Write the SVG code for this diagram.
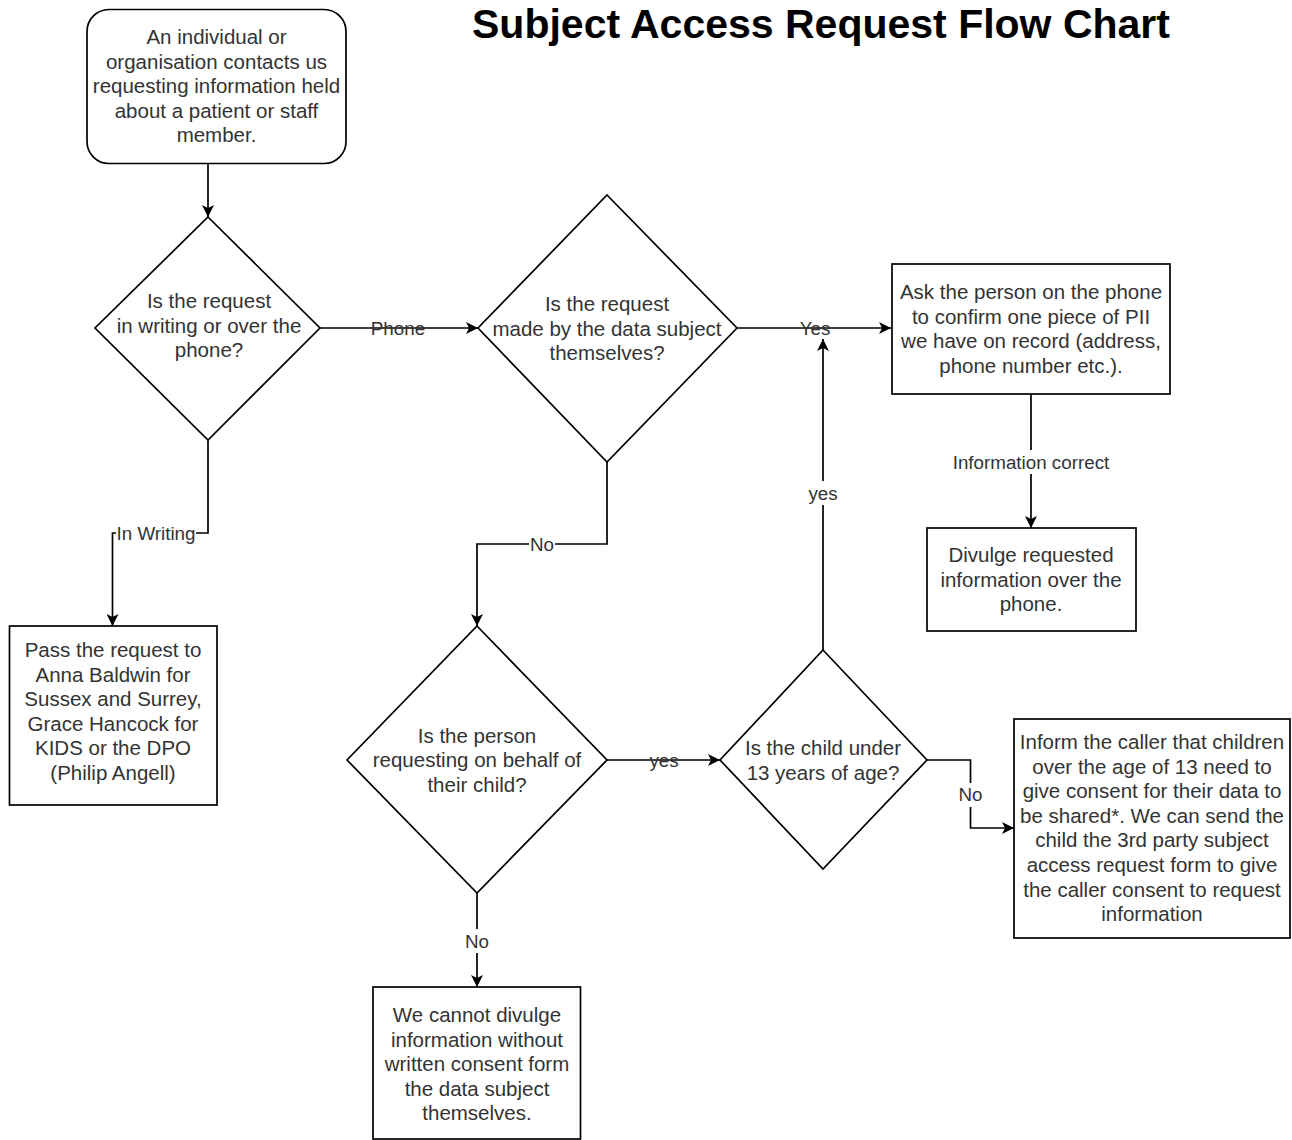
<svg xmlns="http://www.w3.org/2000/svg" width="1292" height="1140" viewBox="0 0 1292 1140">
<defs>
<style>
.shape{fill:#ffffff;stroke:#000000;stroke-width:1.7;}
.edge{fill:none;stroke:#000000;stroke-width:1.7;}
.t{font-family:"Liberation Sans",Arial,Helvetica,sans-serif;font-size:20.5px;fill:#333333;text-anchor:middle;}
.lbl{font-family:"Liberation Sans",Arial,Helvetica,sans-serif;font-size:18.8px;fill:#333333;text-anchor:middle;}
.bg{fill:#ffffff;stroke:none;}
.title{font-family:"Liberation Sans",Arial,Helvetica,sans-serif;font-size:41px;font-weight:bold;fill:#000000;text-anchor:middle;}
</style>
<marker id="arr" markerUnits="userSpaceOnUse" markerWidth="14" markerHeight="12" refX="12" refY="6" orient="auto">
<path d="M0,0 L12,6 L0,12 L3,6 z" fill="#000000"/>
</marker>
</defs>
<rect width="1292" height="1140" fill="#ffffff"/>
<text class="title" x="821" y="38">Subject Access Request Flow Chart</text>

<g id="connectors">
<path class="edge" d="M208,164 L208,217" marker-end="url(#arr)"/>
<path class="edge" d="M320,328 L478,328" marker-end="url(#arr)"/>
<path class="edge" d="M737,328 L891,328" marker-end="url(#arr)"/>
<path class="edge" d="M1031,394 L1031,528" marker-end="url(#arr)"/>
<path class="edge" d="M208,440 L208,533 L112.5,533 L112.5,626" marker-end="url(#arr)"/>
<path class="edge" d="M607,462 L607,544 L477,544 L477,626" marker-end="url(#arr)"/>
<path class="edge" d="M607,760 L720,760" marker-end="url(#arr)"/>
<path class="edge" d="M823,650 L823,339" marker-end="url(#arr)"/>
<path class="edge" d="M927,760 L970.5,760 L970.5,828 L1014,828" marker-end="url(#arr)"/>
<path class="edge" d="M477,893 L477,987" marker-end="url(#arr)"/>

<text class="lbl" x="398" y="335">Phone</text>
<text class="lbl" x="815" y="335">Yes</text>
<rect class="bg" x="951" y="450" width="160" height="24"/>
<text class="lbl" x="1031" y="468.5">Information correct</text>
<rect class="bg" x="116" y="521" width="80" height="24"/>
<text class="lbl" x="156" y="540">In Writing</text>
<rect class="bg" x="529" y="532" width="26" height="24"/>
<text class="lbl" x="542" y="551">No</text>
<text class="lbl" x="664" y="767">yes</text>
<rect class="bg" x="807" y="481" width="32" height="24"/>
<text class="lbl" x="823" y="500">yes</text>
<rect class="bg" x="957" y="783" width="27" height="24"/>
<text class="lbl" x="970.5" y="801">No</text>
<rect class="bg" x="464" y="929" width="26" height="24"/>
<text class="lbl" x="477" y="947.5">No</text>
</g>

<g id="start">
<rect class="shape" x="87" y="9.5" width="259" height="154" rx="22" ry="22"/>
<text class="t" x="216.5" y="44"><tspan x="216.5">An individual or</tspan><tspan x="216.5" dy="24.6">organisation contacts us</tspan><tspan x="216.5" dy="24.6">requesting information held</tspan><tspan x="216.5" dy="24.6">about a patient or staff</tspan><tspan x="216.5" dy="24.6">member.</tspan></text>
</g>

<g id="d-writing-phone">
<polygon class="shape" points="208,217 320,328 208,440 95,328"/>
<text class="t" x="209" y="308"><tspan x="209">Is the request</tspan><tspan x="209" dy="24.6">in writing or over the</tspan><tspan x="209" dy="24.6">phone?</tspan></text>
</g>

<g id="d-data-subject">
<polygon class="shape" points="607,195 737,328 607,462 478,328"/>
<text class="t" x="607" y="311"><tspan x="607">Is the request</tspan><tspan x="607" dy="24.6">made by the data subject</tspan><tspan x="607" dy="24.6">themselves?</tspan></text>
</g>

<g id="ask-pii">
<rect class="shape" x="892" y="264" width="278" height="130"/>
<text class="t" x="1031" y="299"><tspan x="1031">Ask the person on the phone</tspan><tspan x="1031" dy="24.6">to confirm one piece of PII</tspan><tspan x="1031" dy="24.6">we have on record (address,</tspan><tspan x="1031" dy="24.6">phone number etc.).</tspan></text>
</g>

<g id="divulge-phone">
<rect class="shape" x="927" y="528" width="209" height="103"/>
<text class="t" x="1031" y="562"><tspan x="1031">Divulge requested</tspan><tspan x="1031" dy="24.6">information over the</tspan><tspan x="1031" dy="24.6">phone.</tspan></text>
</g>

<g id="pass-request">
<rect class="shape" x="9.5" y="626" width="207.5" height="179"/>
<text class="t" x="113" y="657"><tspan x="113">Pass the request to</tspan><tspan x="113" dy="24.6">Anna Baldwin for</tspan><tspan x="113" dy="24.6">Sussex and Surrey,</tspan><tspan x="113" dy="24.6">Grace Hancock for</tspan><tspan x="113" dy="24.6">KIDS or the DPO</tspan><tspan x="113" dy="24.6">(Philip Angell)</tspan></text>
</g>

<g id="d-behalf-child">
<polygon class="shape" points="477,626 607,760 477,893 347,760"/>
<text class="t" x="477" y="742.5"><tspan x="477">Is the person</tspan><tspan x="477" dy="24.6">requesting on behalf of</tspan><tspan x="477" dy="24.6">their child?</tspan></text>
</g>

<g id="d-under-13">
<polygon class="shape" points="823,650 927,760 823,869 720,760"/>
<text class="t" x="823" y="755"><tspan x="823">Is the child under</tspan><tspan x="823" dy="24.6">13 years of age?</tspan></text>
</g>

<g id="inform-caller">
<rect class="shape" x="1014" y="719" width="276" height="219"/>
<text class="t" x="1152" y="749"><tspan x="1152">Inform the caller that children</tspan><tspan x="1152" dy="24.6">over the age of 13 need to</tspan><tspan x="1152" dy="24.6">give consent for their data to</tspan><tspan x="1152" dy="24.6">be shared*. We can send the</tspan><tspan x="1152" dy="24.6">child the 3rd party subject</tspan><tspan x="1152" dy="24.6">access request form to give</tspan><tspan x="1152" dy="24.6">the caller consent to request</tspan><tspan x="1152" dy="24.6">information</tspan></text>
</g>

<g id="cannot-divulge">
<rect class="shape" x="373" y="987" width="207.5" height="152"/>
<text class="t" x="477" y="1022"><tspan x="477">We cannot divulge</tspan><tspan x="477" dy="24.6">information without</tspan><tspan x="477" dy="24.6">written consent form</tspan><tspan x="477" dy="24.6">the data subject</tspan><tspan x="477" dy="24.6">themselves.</tspan></text>
</g>
</svg>
